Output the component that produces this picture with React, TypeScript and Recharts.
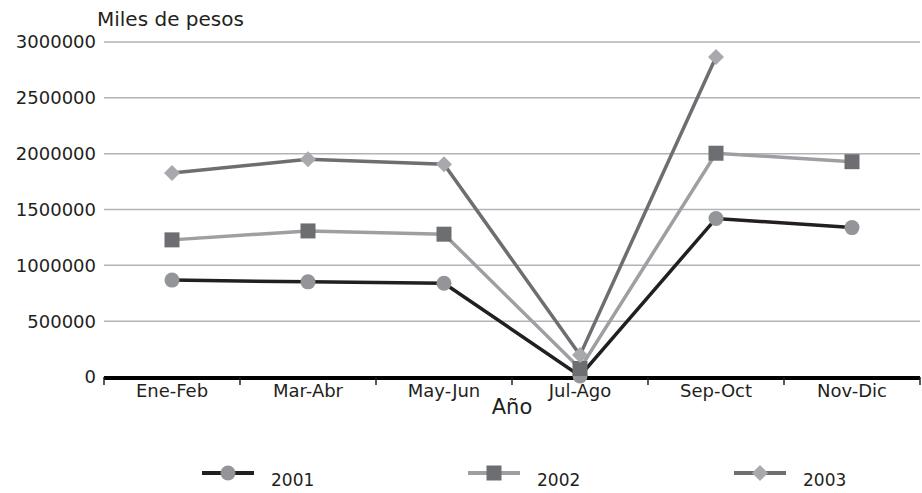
import { LineChart, Line, XAxis, YAxis, CartesianGrid, Legend } from 'recharts';

const periods = ['Ene-Feb', 'Mar-Abr', 'May-Jun', 'Jul-Ago', 'Sep-Oct', 'Nov-Dic'];
const values2001 = [868000, 852000, 840000, 10000, 1420000, 1338000];
const values2002 = [1228000, 1308000, 1279000, 76000, 2004000, 1928000];
const values2003 = [1826000, 1950000, 1905000, 196000, 2866000, null];
const yTicks = [0, 500000, 1000000, 1500000, 2000000, 2500000, 3000000];
// band boundaries on a 0..5 helper axis spanning the full plot width
const edgeTicks = [0, 0.8333, 1.6667, 2.5, 3.3333, 4.1667, 5];

const chartData = periods.map((period, i) => ({
  period,
  y2001: values2001[i],
  y2002: values2002[i],
  y2003: values2003[i],
}));

const series = [
  { key: 'y2001', name: '2001', line: '#231f20', width: 3.5, marker: 'circle', fill: '#939598' },
  { key: 'y2002', name: '2002', line: '#9d9fa2', width: 3.5, marker: 'square', fill: '#6d6e71' },
  { key: 'y2003', name: '2003', line: '#6d6e71', width: 3.5, marker: 'diamond', fill: '#a7a9ac' },
];

const textColor = '#231f20';

const Marker = ({ shape, fill, cx, cy }: { shape: string; fill: string; cx: number; cy: number }) => {
  if (shape === 'circle') return <circle cx={cx} cy={cy} r={7.5} fill={fill} />;
  if (shape === 'square') return <rect x={cx - 7.5} y={cy - 7.5} width={15} height={15} fill={fill} />;
  return <polygon points={`${cx},${cy - 8} ${cx + 8},${cy} ${cx},${cy + 8} ${cx - 8},${cy}`} fill={fill} />;
};

const dotFor = (shape: string, fill: string) => (props: any) => {
  const { cx, cy, index, value } = props;
  if (cx == null || cy == null || value == null) return <g key={index} />;
  return <g key={index}><Marker shape={shape} fill={fill} cx={cx} cy={cy} /></g>;
};

const LegendContent = () => (
  <div style={{ display: 'flex', paddingLeft: 202, fontFamily: 'DejaVu Sans', fontSize: 17, color: textColor }}>
    {series.map((s) => (
      <div key={s.key} style={{ width: 266, flexShrink: 0, display: 'flex', alignItems: 'flex-start' }}>
        <svg width={52} height={18} style={{ marginTop: 7 }}>
          <line x1={0} y1={9} x2={52} y2={9} stroke={s.line} strokeWidth={4} />
          <Marker shape={s.marker} fill={s.fill} cx={26} cy={9} />
        </svg>
        <span style={{ marginLeft: 17, marginTop: 13 }}>{s.name}</span>
      </div>
    ))}
  </div>
);

export default function App() {
  return (
    <div style={{ position: 'absolute', left: 0, top: 0 }}>
      <LineChart
        width={922}
        height={493}
        data={chartData}
        margin={{ top: 42, right: 2, left: 0, bottom: 0 }}
        style={{ fontFamily: 'DejaVu Sans' }}
      >
        <CartesianGrid vertical={false} stroke="#b1b3b6" strokeWidth={1.5} xAxisId="b" />
        <XAxis
          xAxisId="b"
          dataKey="period"
          padding={{ left: 68, right: 68 }}
          axisLine={{ stroke: '#000', strokeWidth: 4 }}
          tickLine={false}
          tick={{ fontSize: 18, fill: textColor }}
          tickMargin={0}
          height={79}
          interval={0}
          label={{ value: 'Año', position: 'insideTop', offset: 21, fontSize: 21, fill: textColor }}
        />
        <XAxis
          xAxisId="a"
          type="number"
          domain={[0, 5]}
          allowDataOverflow
          ticks={edgeTicks}
          interval={0}
          tickFormatter={() => ''}
          axisLine={false}
          tickLine={{ stroke: '#231f20', strokeWidth: 1.5 }}
          tickSize={8}
          height={1}
        />
        <YAxis
          domain={[0, 3000000]}
          ticks={yTicks}
          interval={0}
          axisLine={false}
          tickLine={false}
          width={104}
          tick={{ fontSize: 18, fill: textColor }}
          label={(props: any) => {
            const vb = props.viewBox;
            return (
              <text x={vb.x + vb.width - 7} y={vb.y - 16} fontSize={20} fill={textColor}>
                Miles de pesos
              </text>
            );
          }}
        />
        <Legend verticalAlign="bottom" height={36} content={LegendContent} />
        {series.map((s) => (
          <Line
            key={s.key}
            xAxisId="b"
            type="linear"
            dataKey={s.key}
            name={s.name}
            stroke={s.line}
            strokeWidth={s.width}
            dot={dotFor(s.marker, s.fill)}
            activeDot={false}
            isAnimationActive={false}
          />
        ))}
      </LineChart>
    </div>
  );
}
